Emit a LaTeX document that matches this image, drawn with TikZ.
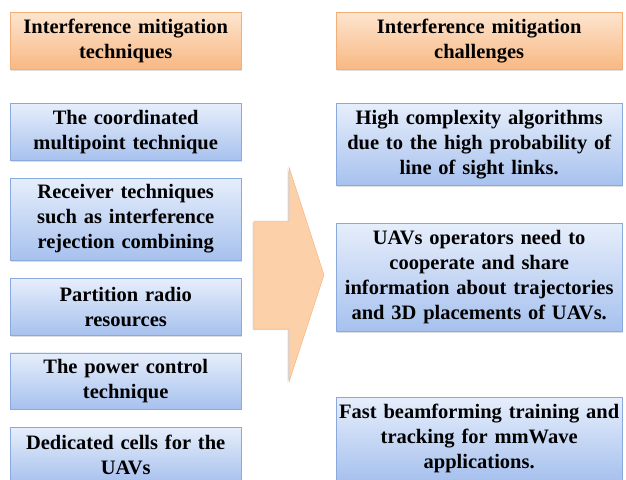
\documentclass[tikz,border=0pt]{standalone}
\usepackage{fontspec}
\setmainfont{Liberation Serif}
\usetikzlibrary{positioning,shadows}

\definecolor{orgtop}{HTML}{FDE5CF}
\definecolor{orgbot}{HTML}{F8B883}
\definecolor{orgline}{HTML}{F4AE78}
\definecolor{blutop}{HTML}{E6EEFB}
\definecolor{blubot}{HTML}{A7C1EE}
\definecolor{bluline}{HTML}{8AAADF}
\definecolor{arrfill}{HTML}{FCD0A8}

\begin{document}
\begin{tikzpicture}[x=1pt, y=1pt,
    hdr/.style={draw=orgline, top color=orgtop, bottom color=orgbot, align=center,
      font=\fontsize{20.5}{25}\selectfont\bfseries, inner xsep=2pt, inner ysep=0pt,
      drop shadow={opacity=0.25, shadow xshift=1pt, shadow yshift=-1.5pt}},
    tech/.style={draw=bluline, top color=blutop, bottom color=blubot, align=center,
      font=\fontsize{20.5}{25}\selectfont\bfseries, inner xsep=2pt, inner ysep=0pt,
      drop shadow={opacity=0.25, shadow xshift=1pt, shadow yshift=-1.5pt}},
    lbox/.style={text width=227pt, minimum height=#1},
    rbox/.style={text width=282pt, minimum height=#1}
  ]
    \useasboundingbox (0,0) rectangle (626,-479);
    % left column: techniques
    \node[hdr, lbox=57pt, anchor=north west] (lh) at (10,-12) {Interference mitigation\\techniques};
    \node[tech, lbox=57pt, below=34pt of lh] (l1) {The coordinated\\multipoint technique};
    \node[tech, lbox=82pt, below=17pt of l1] (l2) {Receiver techniques\\such as interference\\rejection combining};
    \node[tech, lbox=57pt, below=18pt of l2] (l3) {Partition radio\\resources};
    \node[tech, lbox=56pt, below=17pt of l3] (l4) {The power control\\technique};
    \node[tech, lbox=56pt, below=18pt of l4] (l5) {Dedicated cells for the\\UAVs};
    % right column: challenges
    \node[hdr, rbox=57pt, anchor=north west] (rh) at (336,-12) {Interference mitigation\\challenges};
    \node[tech, rbox=82pt, below=34pt of rh] (r1) {High complexity algorithms\\due to the high probability of\\line of sight links.};
    \node[tech, rbox=108pt, below=37pt of r1] (r2) {UAVs operators need to\\cooperate and share\\information about trajectories\\and 3D placements of UAVs.};
    \node[tech, rbox=83pt, below=66pt of r2] (r3) {Fast beamforming training and\\tracking for mmWave\\applications.};
    % big arrow between the columns
    \filldraw[draw=orgline, fill=arrfill, drop shadow={opacity=0.3, shadow xshift=-1.5pt, shadow yshift=-1pt}]
      (254,-221) -- (289,-221) -- (289,-167) -- (324,-275) -- (289,-382) -- (289,-329) -- (254,-329) -- cycle;
\end{tikzpicture}
\end{document}
